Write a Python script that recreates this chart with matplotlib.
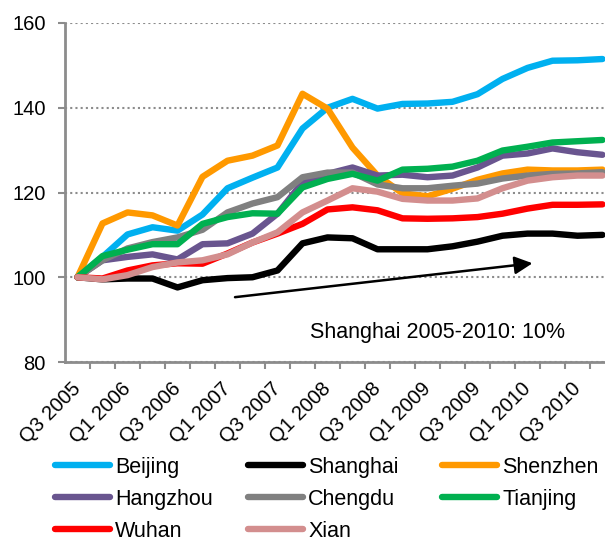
import numpy as np
import matplotlib.pyplot as plt

plt.rcParams['font.family'] = ['Liberation Sans', 'DejaVu Sans']

quarters = ['Q3 2005', 'Q4 2005',
            'Q1 2006', 'Q2 2006', 'Q3 2006', 'Q4 2006',
            'Q1 2007', 'Q2 2007', 'Q3 2007', 'Q4 2007',
            'Q1 2008', 'Q2 2008', 'Q3 2008', 'Q4 2008',
            'Q1 2009', 'Q2 2009', 'Q3 2009', 'Q4 2009',
            'Q1 2010', 'Q2 2010', 'Q3 2010', 'Q4 2010']

beijing  = [100, 104.8, 110.1, 111.8, 111.0, 114.8, 121.0, 123.5, 125.9, 135.1, 140.0,
            142.1, 139.8, 140.9, 141.0, 141.4, 143.2, 146.8, 149.4, 151.1, 151.2, 151.5]
shanghai = [100, 99.5, 99.7, 99.7, 97.6, 99.3, 99.8, 100.0, 101.6, 108.0, 109.4,
            109.2, 106.6, 106.6, 106.6, 107.3, 108.4, 109.8, 110.3, 110.3, 109.8, 110.0]
shenzhen = [100, 112.7, 115.3, 114.6, 112.2, 123.7, 127.5, 128.7, 131.1, 143.3, 139.8,
            130.6, 124.0, 119.8, 119.1, 120.9, 123.0, 124.5, 125.4, 125.2, 125.2, 125.4]
hangzhou = [100, 104.0, 104.8, 105.4, 104.2, 107.8, 108.0, 110.3, 115.0, 122.4, 124.4,
            125.9, 124.0, 124.2, 123.6, 124.0, 125.9, 128.7, 129.2, 130.4, 129.5, 128.9]
chengdu  = [100, 104.0, 106.8, 108.3, 109.4, 111.2, 115.3, 117.4, 118.9, 123.6, 124.7,
            124.7, 121.9, 121.0, 121.0, 121.6, 122.1, 123.3, 124.0, 124.4, 124.5, 124.8]
tianjing = [100, 105.0, 106.5, 107.8, 107.8, 112.6, 114.2, 115.1, 115.0, 121.2, 123.2,
            124.4, 122.8, 125.4, 125.6, 126.1, 127.5, 129.9, 130.8, 131.8, 132.1, 132.4]
wuhan    = [100, 99.7, 101.6, 102.8, 103.3, 103.2, 105.6, 108.2, 110.3, 112.6, 116.0,
            116.5, 115.8, 113.9, 113.8, 113.9, 114.2, 115.0, 116.2, 117.1, 117.1, 117.2]
xian     = [100, 99.5, 100.5, 102.4, 103.5, 104.0, 105.4, 108.2, 110.6, 115.3, 118.1,
            121.0, 120.2, 118.5, 118.1, 118.1, 118.6, 121.0, 122.8, 123.6, 124.0, 124.0]

cities = ['Beijing', 'Shanghai', 'Shenzhen', 'Hangzhou', 'Chengdu', 'Tianjing', 'Wuhan', 'Xian']
series = [beijing, shanghai, shenzhen, hangzhou, chengdu, tianjing, wuhan, xian]
colors = ['#00B0F0', '#000000', '#FF9900', '#69558F', '#808080', '#00B050', '#FF0000', '#D38E8E']

fig = plt.figure(figsize=(6.05, 5.43), dpi=100)
ax = fig.add_axes([65 / 605, 181 / 543, 550 / 605, 339 / 543])

x = np.arange(len(quarters))
lines = []
for name, vals, c in zip(cities, series, colors):
    ln, = ax.plot(x, vals, color=c, lw=4.6, solid_joinstyle='round',
                  solid_capstyle='round', label=name)
    lines.append(ln)

ax.set_xlim(-0.5, len(quarters) - 0.5)
ax.set_ylim(80, 160)
ax.set_yticks([80, 100, 120, 140, 160])
ax.yaxis.grid(True, ls=(0, (1, 1.5)), color='#8c8c8c', lw=1.5)
ax.set_axisbelow(True)

# labels every other quarter, tick marks between categories
ax.set_xticks(x[::2])
ax.set_xticklabels(quarters[::2], rotation=45, ha='right', va='center',
                   rotation_mode='anchor')
ax.set_xticks(x[:-1] + 0.5, minor=True)
ax.tick_params(axis='x', which='major', length=0, pad=17, labelsize=14.5)
ax.tick_params(axis='x', which='minor', length=5, width=1.5, color='#8c8c8c')
ax.tick_params(axis='y', length=5, width=1.5, color='#8c8c8c', pad=9, labelsize=14.5)

for s in ['top', 'right']:
    ax.spines[s].set_visible(False)
for s in ['left', 'bottom']:
    ax.spines[s].set_color('#8c8c8c')
    ax.spines[s].set_linewidth(2)

ax.annotate('', xy=(18.2, 103.3), xytext=(6.3, 95.3),
            arrowprops=dict(arrowstyle='-|>', lw=1.8, color='black',
                            mutation_scale=27, shrinkA=0, shrinkB=0))
ax.text(9.3, 85.6, 'Shanghai 2005-2010: 10%', fontsize=15.5, ha='left', va='baseline')

# one legend per column so the columns sit at equal spacing
col_x = [55, 248, 442]
col_items = [[0, 3, 6], [1, 4, 7], [2, 5]]
for cx, items in zip(col_x, col_items):
    leg = fig.legend([lines[i] for i in items], [cities[i] for i in items],
                     loc='upper left', bbox_to_anchor=(cx / 605, 1 - 457 / 543),
                     frameon=False, fontsize=15.5, handlelength=2.56,
                     handletextpad=0.23, labelspacing=0.5,
                     borderpad=0, borderaxespad=0)
    for h in leg.get_lines():
        h.set_linewidth(4.6)

fig.savefig('out.png', dpi=100)
